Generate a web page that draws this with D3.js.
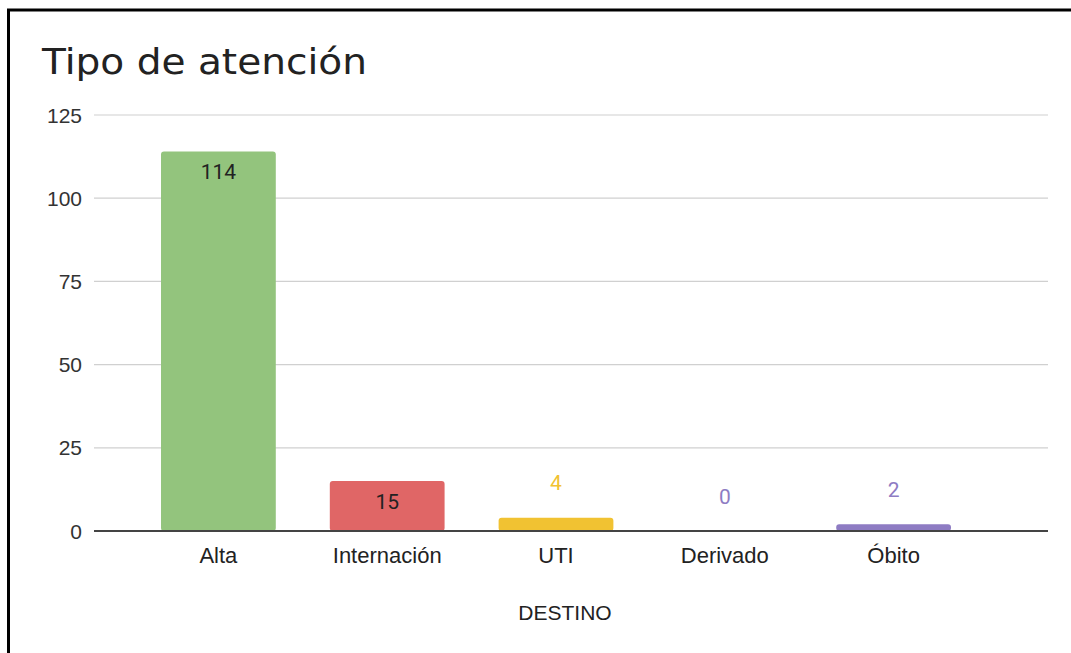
<!DOCTYPE html>
<html>
<head>
<meta charset="utf-8">
<script src="https://cdn.jsdelivr.net/npm/d3@7"></script>
<style>
  body { margin: 0; background: #fff; }
  svg { display: block; }
</style>
</head>
<body>
<svg id="chart"></svg>
<script>
  // data
  const categories = ["Alta", "Internación", "UTI", "Derivado", "Óbito"];
  const values = [114, 15, 4, 0, 2];
  const barColors = ["#93c47d", "#e06666", "#f1c232", "#8e7cc3", "#8e7cc3"];
  const yTicks = [0, 25, 50, 75, 100, 125];

  const W = 1071, H = 653;
  const svg = d3.select("#chart").attr("width", W).attr("height", H);

  // black frame, cut off on the right and bottom
  svg.append("rect")
    .attr("x", 8.5).attr("y", 10)
    .attr("width", W + 20).attr("height", H + 20)
    .attr("fill", "none").attr("stroke", "#000").attr("stroke-width", 3);

  svg.append("text")
    .attr("x", 42).attr("y", 74)
    .attr("font-family", "DejaVu Sans")
    .attr("font-size", 36)
    .attr("textLength", 325)
    .attr("lengthAdjust", "spacingAndGlyphs")
    .attr("fill", "#222")
    .text("Tipo de atención");

  const plot = { left: 94, right: 1048, top: 115, bottom: 531 };

  const yscale = d3.scaleLinear().domain([0, 125]).range([plot.bottom, plot.top]);
  const xscale = d3.scaleBand()
    .domain(categories)
    .range([134, 978])
    .paddingInner(0.32)
    .paddingOuter(0.16);

  // gridlines
  svg.append("g").selectAll("line")
    .data(yTicks.filter((d) => d !== 0))
    .join("line")
    .attr("x1", plot.left).attr("x2", plot.right)
    .attr("y1", (d) => yscale(d)).attr("y2", (d) => yscale(d))
    .attr("stroke", "#d0d0d0").attr("stroke-width", 1.2);

  // y tick labels
  svg.append("g").selectAll("text")
    .data(yTicks)
    .join("text")
    .attr("x", 82)
    .attr("y", (d) => yscale(d))
    .attr("dy", "0.36em")
    .attr("text-anchor", "end")
    .attr("font-family", "Liberation Sans, Arial, sans-serif")
    .attr("font-size", 21)
    .attr("fill", "#333")
    .text((d) => d);

  const data = categories.map((c, i) => ({ cat: c, val: values[i], color: barColors[i] }));

  // bars
  svg.append("g").selectAll("rect")
    .data(data.filter((d) => d.val > 0))
    .join("rect")
    .attr("x", (d) => xscale(d.cat))
    .attr("width", xscale.bandwidth())
    .attr("y", (d) => yscale(d.val))
    .attr("height", (d) => yscale(0) - yscale(d.val))
    .attr("rx", 3)
    .attr("fill", (d) => d.color);

  // baseline
  svg.append("line")
    .attr("x1", plot.left).attr("x2", plot.right)
    .attr("y1", yscale(0)).attr("y2", yscale(0))
    .attr("stroke", "#444").attr("stroke-width", 2);

  // value labels: inside the bar when tall enough, otherwise above it
  svg.append("g").selectAll("text")
    .data(data)
    .join("text")
    .attr("x", (d) => xscale(d.cat) + xscale.bandwidth() / 2)
    .attr("y", (d) => {
      const h = yscale(0) - yscale(d.val);
      return h > 40 ? yscale(d.val) + 20 : yscale(d.val) - 35;
    })
    .attr("dy", "0.36em")
    .attr("text-anchor", "middle")
    .attr("font-family", "Roboto, Liberation Sans, sans-serif")
    .attr("font-size", 21)
    .attr("fill", (d) => (yscale(0) - yscale(d.val) > 40 ? "#222" : d.color))
    .text((d) => d.val);

  // x category labels
  svg.append("g").selectAll("text")
    .data(categories)
    .join("text")
    .attr("x", (d) => xscale(d) + xscale.bandwidth() / 2)
    .attr("y", 555)
    .attr("dy", "0.36em")
    .attr("text-anchor", "middle")
    .attr("font-family", "Liberation Sans, Arial, sans-serif")
    .attr("font-size", 22)
    .attr("fill", "#222")
    .text((d) => d);

  // axis title
  svg.append("text")
    .attr("x", (plot.left + plot.right) / 2 - 6)
    .attr("y", 612)
    .attr("dy", "0.36em")
    .attr("text-anchor", "middle")
    .attr("font-family", "Liberation Sans, Arial, sans-serif")
    .attr("font-size", 21)
    .attr("fill", "#222")
    .text("DESTINO");
</script>
</body>
</html>
